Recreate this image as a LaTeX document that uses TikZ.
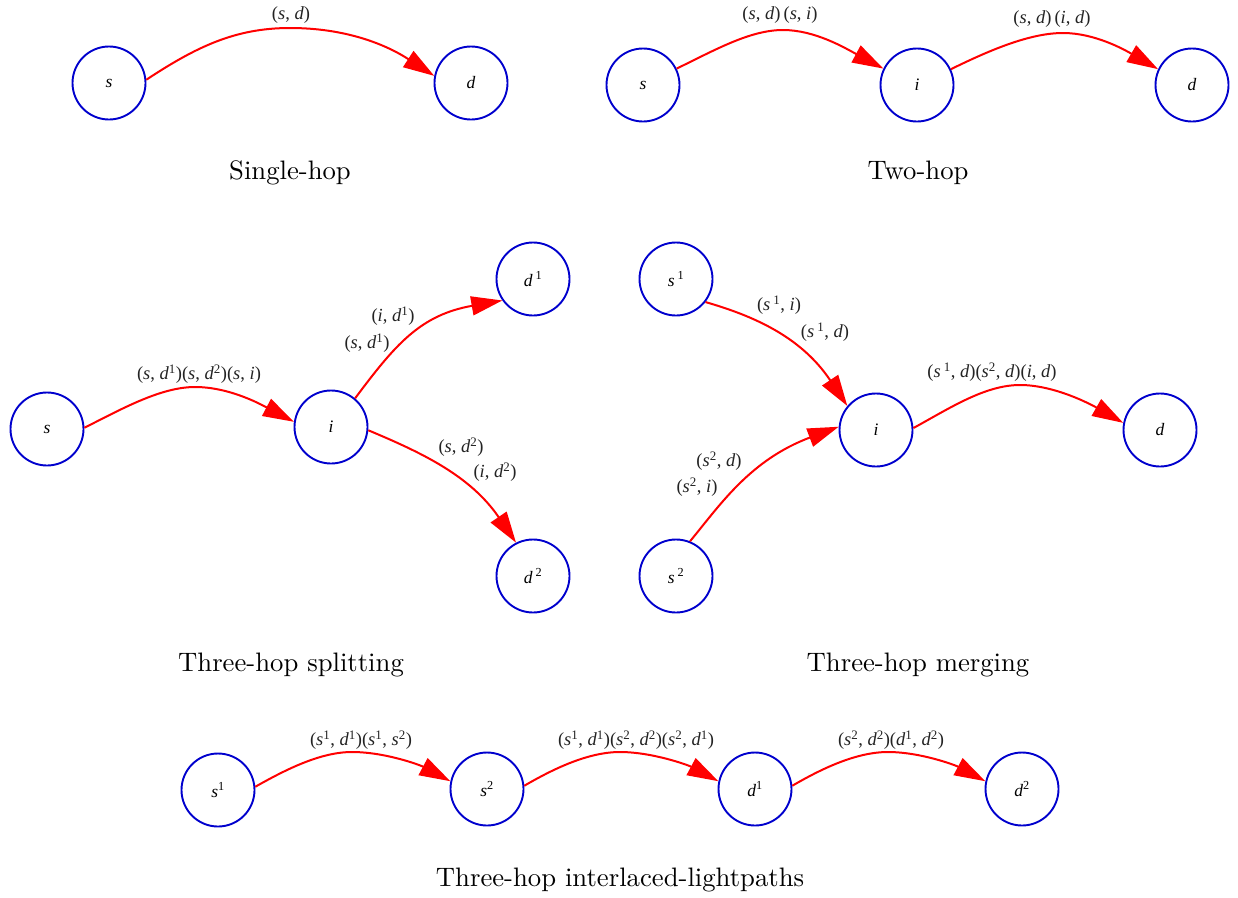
\documentclass[tikz,border=0pt]{standalone}
\usepackage{fontspec}
\newfontfamily\tms{Liberation Serif}
\newfontfamily\capfont{lmroman10-regular}[Extension=.otf]
\usetikzlibrary{arrows.meta}
\definecolor{nblue}{RGB}{0,0,205}
\definecolor{labgray}{RGB}{35,35,35}
\newcommand\pr[2]{(\textit{#1}, \textit{#2})}
\newcommand\su[1]{{\upshape\textsuperscript{#1}}}
\begin{document}
\begin{tikzpicture}[x=1pt,y=-1pt,
  nd/.style={circle, draw=nblue, line width=1.9pt, minimum size=73pt, inner sep=0pt, font=\tms\fontsize{17.5}{20}\selectfont\itshape},
  edg/.style={draw=red, line width=2pt, -{Triangle[length=31pt,width=19pt]}},
  lab/.style={font=\tms\fontsize{18.5}{21}\selectfont, text=labgray, inner sep=0pt},
  captxt/.style={font=\capfont\fontsize{26.7}{30}\selectfont, inner sep=0pt, text=black}]
\useasboundingbox (0,0) rectangle (1238,897);
% Single-hop
\node[nd] (as) at (109,83) {s};
\node[nd] (ad) at (471,83) {d};
\draw[edg] (as.5) .. controls (196,47) and (235,28) .. (290,28) .. controls (345,28) and (385,44) .. (ad.169);
\node[lab] (las) at (291,15) {\pr{s}{d}};
\node[captxt] (ca) at (290,173) {Single-hop};
% Two-hop
\node[nd] (bs) at (643,85) {s};
\node[nd] (bi) at (917,85) {i};
\node[nd] (bd) at (1192,85) {d};
\draw[edg] (bs.26) .. controls (715,50) and (750,30) .. (783,30) .. controls (815,30) and (845,48) .. (bi.154);
\draw[edg] (bi.25) .. controls (990,50) and (1030,33) .. (1063,33) .. controls (1095,33) and (1125,50) .. (bd.155);
\node[lab] (lb1) at (780,15) {\pr{s}{d}\,\pr{s}{i}};
\node[lab] (lb2) at (1052,19) {\pr{s}{d}\,\pr{i}{d}};
\node[captxt] (cb) at (918,173) {Two-hop};
% Three-hop splitting
\node[nd] (cs) at (47,429) {s};
\node[nd] (ci) at (331,427) {i};
\node[nd] (cd1) at (533,279) {d\,\su{1}};
\node[nd] (cd2) at (533,576) {d\,\su{2}};
\draw[edg] (cs.2) .. controls (120,410) and (160,387) .. (195,387) .. controls (230,387) and (262,405) .. (ci.172);
\draw[edg] (ci.50) .. controls (395,345) and (420,315) .. (cd1.215);
\draw[edg] (ci.355) .. controls (420,452) and (470,475) .. (cd2.117);
\node[lab] (lc1) at (199,374) {\pr{s}{d\su{1}}\pr{s}{d\su{2}}\pr{s}{i}};
\node[lab] (lc2) at (393,316) {\pr{i}{d\su{1}}};
\node[lab] (lc3) at (367,343) {\pr{s}{d\su{1}}};
\node[lab] (lc4) at (461,447) {\pr{s}{d\su{2}}};
\node[lab] (lc5) at (495,472) {\pr{i}{d\su{2}}};
\node[captxt] (cc) at (291,665) {Three-hop splitting};
% Three-hop merging
\node[nd] (ds1) at (676,279) {s\,\su{1}};
\node[nd] (ds2) at (676,576) {s\,\su{2}};
\node[nd] (di) at (876,430) {i};
\node[nd] (dd) at (1160,430) {d};
\draw[edg] (ds1.322) .. controls (750,315) and (800,335) .. (di.140);
\draw[edg] (ds2.68) .. controls (720,505) and (750,460) .. (di.175);
\draw[edg] (di.3) .. controls (950,408) and (985,385) .. (1020,385) .. controls (1055,385) and (1092,405) .. (dd.169);
\node[lab] (ld1) at (779,305) {\pr{s\,\su{1}}{i}};
\node[lab] (ld2) at (825,332) {\pr{s\,\su{1}}{d}};
\node[lab] (ld3) at (719,461) {\pr{s\su{2}}{d}};
\node[lab] (ld4) at (697,487) {\pr{s\su{2}}{i}};
\node[lab] (ld5) at (992,372) {\pr{s\,\su{1}}{d}\pr{s\su{2}}{d}\pr{i}{d}};
\node[captxt] (cd) at (918,665) {Three-hop merging};
% Three-hop interlaced-lightpaths
\node[nd] (es1) at (218,790) {s\su{1}};
\node[nd] (es2) at (487,789) {s\su{2}};
\node[nd] (ed1) at (755,789) {d\su{1}};
\node[nd] (ed2) at (1022,789) {d\su{2}};
\draw[edg] (es1.5) .. controls (285,770) and (320,752) .. (352,752) .. controls (385,752) and (420,765) .. (es2.168);
\draw[edg] (es2.5) .. controls (553,769) and (588,752) .. (620,752) .. controls (652,752) and (688,765) .. (ed1.168);
\draw[edg] (ed1.5) .. controls (821,769) and (856,752) .. (888,752) .. controls (920,752) and (955,765) .. (ed2.168);
\node[lab] (le1) at (361,740) {\pr{s\su{1}}{d\su{1}}\pr{s\su{1}}{s\su{2}}};
\node[lab] (le2) at (636,740) {\pr{s\su{1}}{d\su{1}}\pr{s\su{2}}{d\su{2}}\pr{s\su{2}}{d\su{1}}};
\node[lab] (le3) at (891,740) {\pr{s\su{2}}{d\su{2}}\pr{d\su{1}}{d\su{2}}};
\node[captxt] (ce) at (620,880) {Three-hop interlaced-lightpaths};
\end{tikzpicture}
\end{document}
